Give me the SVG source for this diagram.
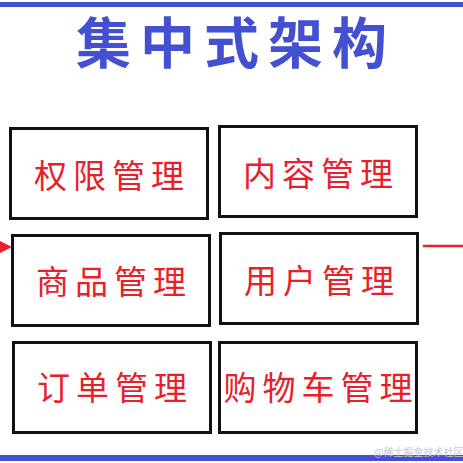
<svg xmlns="http://www.w3.org/2000/svg" width="463" height="463" viewBox="0 0 463 463">
<style>
.box{fill:#ffffff;stroke:#111111;stroke-width:3}
.lbl{font-family:"Noto Sans CJK SC","Noto Sans",sans-serif;font-size:33px;fill:#e8202a;text-anchor:middle;letter-spacing:6px}
.title{font-family:"Noto Sans CJK SC","Noto Sans",sans-serif;font-size:55px;font-weight:bold;fill:#4350cf;text-anchor:middle;letter-spacing:9px}
.bar{fill:#4350cf}
.wm{font-family:"Noto Sans CJK SC","Noto Sans",sans-serif;font-size:10px;fill:#c4c8d4}
</style>
<rect width="463" height="463" fill="#ffffff"/>
<rect class="bar" x="0" y="2" width="463" height="5"/>
<rect class="bar" x="0" y="455" width="463" height="6"/>
<text class="title" x="236" y="63">集中式架构</text>
<g id="connectors">
<polygon points="0,241 12,247 0,253" fill="#e8202a"/>
<line x1="423" y1="246" x2="463" y2="246" stroke="#e8202a" stroke-width="2.5"/>
</g>
<g id="n1"><rect class="box" x="10.5" y="128.5" width="197" height="90"/><text class="lbl" x="112" y="188">权限管理</text></g>
<g id="n2"><rect class="box" x="219.5" y="126.5" width="197" height="90"/><text class="lbl" x="321" y="186">内容管理</text></g>
<g id="n3"><rect class="box" x="12.5" y="235.5" width="197" height="90"/><text class="lbl" x="114" y="294">商品管理</text></g>
<g id="n4"><rect class="box" x="220.5" y="233.5" width="197" height="90"/><text class="lbl" x="322" y="293">用户管理</text></g>
<g id="n5"><rect class="box" x="13.5" y="342.5" width="197" height="90"/><text class="lbl" x="115" y="400">订单管理</text></g>
<g id="n6"><rect class="box" x="219.5" y="342.5" width="197" height="90"/><text class="lbl" x="321" y="400">购物车管理</text></g>
<text class="wm" x="374" y="456">@稀土掘金技术社区</text>
</svg>
